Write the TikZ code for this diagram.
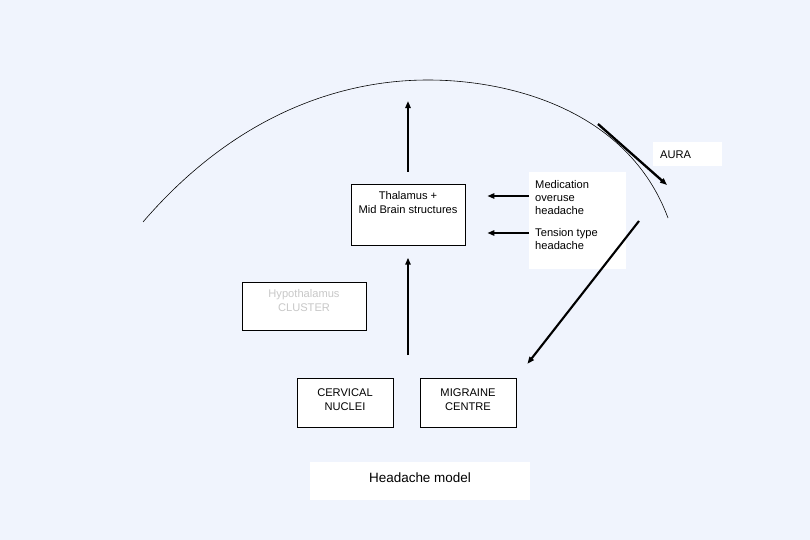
\documentclass[tikz,border=0pt]{standalone}
\usepackage{fontspec}
\setmainfont{Liberation Sans}
\usetikzlibrary{arrows.meta}

\definecolor{slide}{RGB}{240,244,253}
\definecolor{faded}{RGB}{200,200,200}

\tikzset{
  box/.style={draw, line width=0.6pt, fill=white, anchor=north, align=center,
    inner ysep=0pt, font=\fontsize{9.5}{11.5}\selectfont},
  arr/.style={line width=1.5pt, -{Triangle[length=6pt,width=4.5pt]}}
}

\begin{document}
\begin{tikzpicture}[x=0.03cm,y=-0.03cm]

        \fill[slide] (0,0) rectangle (810,540);
        \useasboundingbox (0,0) rectangle (810,540);

        % the arc
        \draw[line width=0.5pt] (143,222) .. controls (235,115) and (340,80) .. (428,80)
          .. controls (510,80) and (628,110) .. (668,218);

        \begin{scope}[every node/.style={box}]
          \node[minimum width=3.42cm, text height=0.87cm, text depth=0.96cm] (thal) at (408,184)
            {Thalamus +\\Mid Brain structures};
          \node[minimum width=3.72cm, text height=0.87cm, text depth=0.57cm, text=faded] (hypo) at (304,282)
            {Hypothalamus\\CLUSTER};
          \node[minimum width=2.88cm, text height=0.96cm, text depth=0.51cm] (cerv) at (345,378)
            {CERVICAL\\NUCLEI};
          \node[minimum width=2.88cm, text height=0.96cm, text depth=0.51cm] (migr) at (468,378)
            {MIGRAINE\\CENTRE};
        \end{scope}

        \begin{scope}[every node/.style={inner sep=0pt, font=\fontsize{9.5}{11.5}\selectfont}]
          \node[fill=white, anchor=north west, minimum width=2.91cm, minimum height=2.91cm] (medbg) at (529,172) {};
          \node[anchor=base west, align=left] (mtxt) at (535,215) {Medication\\overuse\\headache};
          \node[anchor=base west, align=left] (ttxt) at (535,250) {Tension type\\headache};
          \node[fill=white, anchor=north west, align=left, inner xsep=0.21cm, text width=1.65cm,
            text height=0.48cm, text depth=0.24cm] (aura) at (653,142) {AURA};
          \node[fill=white, anchor=north, minimum width=6.57cm, text height=0.6cm, text depth=0.54cm,
            font=\fontsize{11.5}{14}\selectfont] (title) at (420,462) {Headache model};
        \end{scope}

        \coordinate (crown) at (408,101);
        \coordinate (stem) at (408,355);
        \coordinate (aurafrom) at (598,124);
        \coordinate (aurato) at (667,185);
        \coordinate (spread) at (639,221);

        \path (thal.north) edge[arr, shorten <=0.36cm] (crown);
        \path (stem) edge[arr, shorten >=0.36cm] (thal.south);
        \path ([yshift=0.57cm]mtxt.base -| medbg.west) edge[arr, shorten >=0.66cm] ([yshift=0.57cm]mtxt.base -| thal.east);
        \path ([yshift=0.51cm]ttxt.base -| medbg.west) edge[arr, shorten >=0.66cm] ([yshift=0.51cm]ttxt.base -| thal.east);
        \path (aurafrom) edge[arr, line width=2pt] (aurato);
        \path (spread) edge[arr, line width=1.8pt, shorten >=0.54cm] (migr.north east);

      \end{tikzpicture}
\end{document}
